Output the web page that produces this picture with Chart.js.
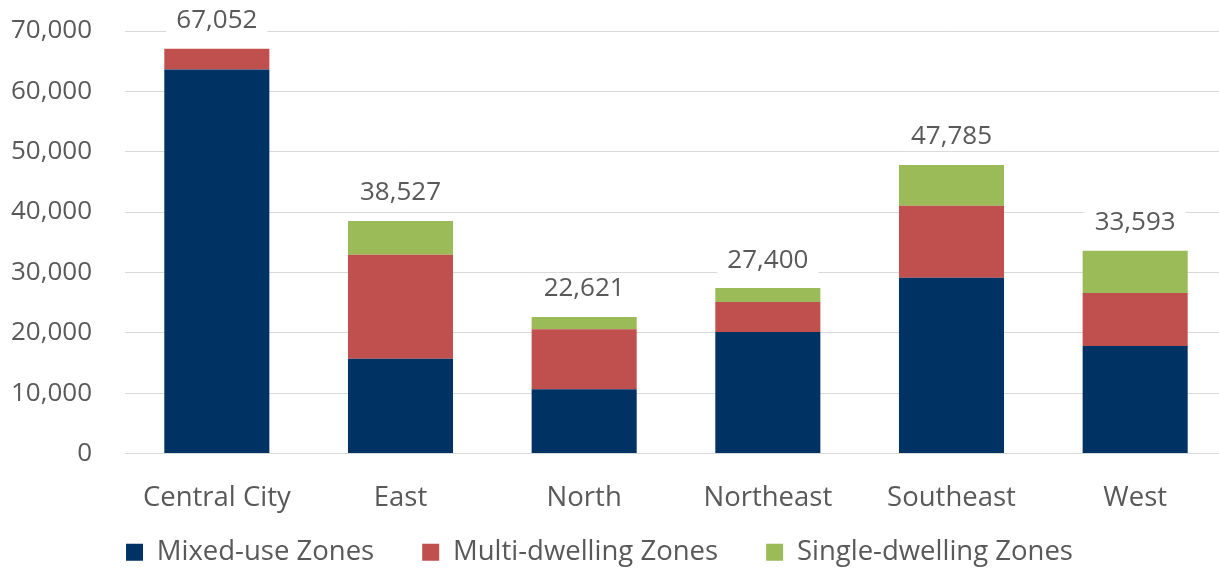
<!DOCTYPE html>
<html>
<head>
<meta charset="utf-8">
<script src="https://cdn.jsdelivr.net/npm/chart.js@4.4.1/dist/chart.umd.min.js"></script>
<style>
  html, body { margin: 0; padding: 0; background: #fff; overflow: hidden; }
  #wrap { width: 1227px; height: 571px; position: relative; }
</style>
</head>
<body>
<div id="wrap"><canvas id="c"></canvas></div>
<script>
const categories = ['Central City', 'East', 'North', 'Northeast', 'Southeast', 'West'];
const mixedUse = [63620, 15710, 10630, 20150, 29120, 17820];
const multiDwelling = [3432, 17230, 9970, 4930, 11910, 8760];
const singleDwelling = [0, 5587, 2021, 2320, 6755, 7013];
const totals = [67052, 38527, 22621, 27400, 47785, 33593];
const yTicks = [0, 10000, 20000, 30000, 40000, 50000, 60000, 70000];

const FONT = "'Segoe UI', 'Open Sans', sans-serif";
const TEXT = '#595959';

const totalLabels = {
  id: 'totalLabels',
  afterDatasetsDraw(chart) {
    const ctx = chart.ctx;
    const xs = chart.scales.x, ys = chart.scales.y;
    ctx.save();
    ctx.font = '26px ' + FONT;
    ctx.textAlign = 'center';
    ctx.textBaseline = 'middle';
    totals.forEach((t, i) => {
      const x = xs.getPixelForValue(i);
      const y = ys.getPixelForValue(t) - 29;
      const s = t.toLocaleString('en-US');
      const w = ctx.measureText(s).width + 20;
      ctx.fillStyle = '#ffffff';
      ctx.fillRect(x - w / 2, y - 15, w, 30);
      ctx.fillStyle = TEXT;
      ctx.fillText(s, x, y + 1);
    });
    ctx.restore();
  }
};

new Chart(document.getElementById('c'), {
  type: 'bar',
  data: {
    labels: categories,
    datasets: [
      { label: 'Mixed-use Zones', data: mixedUse, backgroundColor: '#003264' },
      { label: 'Multi-dwelling Zones', data: multiDwelling, backgroundColor: '#C0504D' },
      { label: 'Single-dwelling Zones', data: singleDwelling, backgroundColor: '#9BBB59' }
    ]
  },
  options: {
    responsive: true,
    maintainAspectRatio: false,
    animation: false,
    layout: { padding: { top: 31, right: 0, left: -28, bottom: -5 } },
    datasets: { bar: { barPercentage: 0.572, categoryPercentage: 1.0, borderWidth: 0 } },
    plugins: {
      legend: {
        position: 'bottom',
        labels: {
          boxWidth: 17, boxHeight: 17, padding: 48,
          color: TEXT,
          font: { family: FONT, size: 27.5 }
        }
      },
      tooltip: { enabled: false }
    },
    scales: {
      x: {
        stacked: true,
        grid: { display: false, drawTicks: false },
        border: { display: false },
        ticks: { color: TEXT, font: { family: FONT, size: 27.5 }, padding: 28, maxRotation: 0, autoSkip: false },
        afterFit(s) { s.height = 37; s._computeLabelArea = () => undefined; }
      },
      y: {
        stacked: true,
        min: 0, max: 70000,
        afterBuildTicks(s) { s.ticks = yTicks.map(v => ({ value: v })); },
        grid: { color: '#D9D9D9', lineWidth: 1, drawTicks: false },
        border: { display: false },
        ticks: {
          color: TEXT, font: { family: FONT, size: 26 }, padding: 33,
          callback: v => v.toLocaleString('en-US')
        },
        afterFit(s) { s.width = 153; s.paddingTop = 0; s.paddingBottom = 0; }
      }
    }
  },
  plugins: [totalLabels]
});
</script>
</body>
</html>
